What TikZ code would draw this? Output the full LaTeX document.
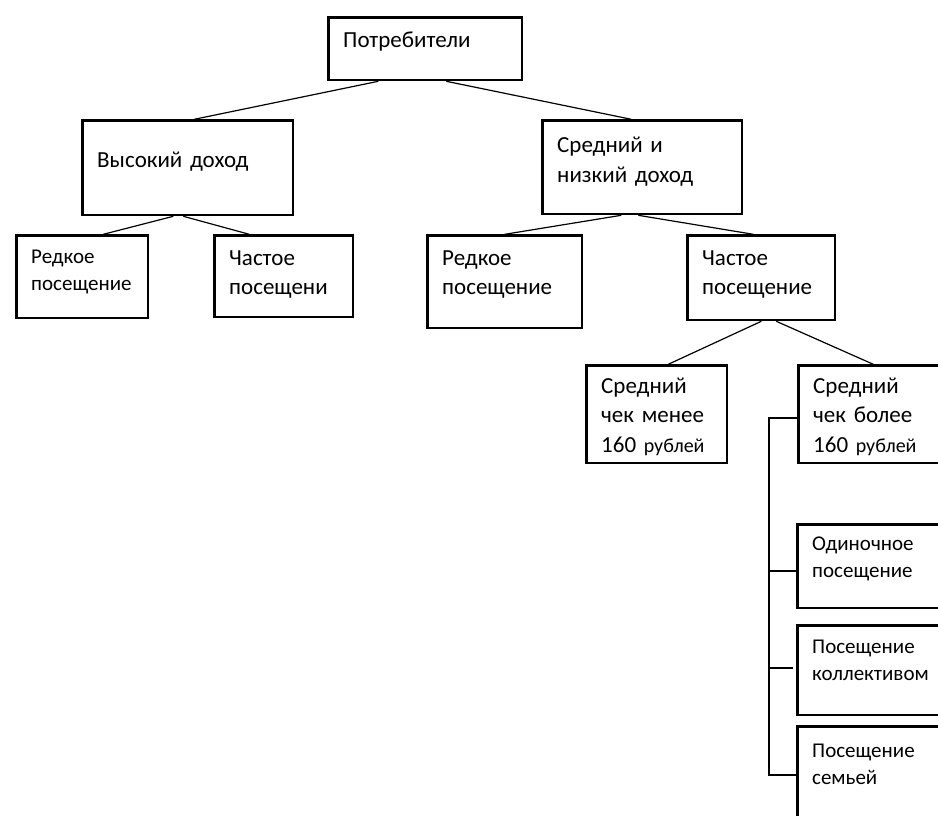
\documentclass[tikz,border=0pt]{standalone}
\usepackage{fontspec}
\setmainfont{Carlito}
\begin{document}
\begin{tikzpicture}[x=1pt,y=-1pt,
 box/.style={draw=black, line width=2.6pt, anchor=north west, inner sep=0pt},
 conn/.style={draw=black, line width=1.2pt},
 big/.style={font=\fontsize{23}{29.5}\selectfont, anchor=base west, inner sep=0pt, align=left, text width=200pt},
 small/.style={font=\fontsize{21}{27}\selectfont, anchor=base west, inner sep=0pt, align=left, text width=200pt}]
\clip (0,0) rectangle (938,816);
\fill[white] (0,0) rectangle (938,816);
% boxes
\node[box, minimum width=193.4pt, minimum height=62.4pt] (P) at (327.3,16.3) {};
\node[box, minimum width=210.4pt, minimum height=94.4pt] (HD) at (81.3,119.3) {};
\node[box, minimum width=131.4pt, minimum height=82.4pt] (LR) at (15.3,234.3) {};
\node[box, minimum width=138.4pt, minimum height=81.4pt] (LF) at (213.3,234.3) {};
\node[box, minimum width=199.4pt, minimum height=93.4pt] (MD) at (541.3,119.3) {};
\node[box, minimum width=154.4pt, minimum height=92.4pt] (MR) at (426.3,234.3) {};
\node[box, minimum width=147.4pt, minimum height=84.4pt] (MF) at (686.3,234.3) {};
\node[box, minimum width=140.4pt, minimum height=97.4pt] (C1) at (585.3,364.3) {};
\node[box, minimum width=161.4pt, minimum height=97.4pt] (C2) at (797.3,364.3) {};
\node[box, minimum width=162.4pt, minimum height=83.4pt] (V1) at (796.3,523.3) {};
\node[box, minimum width=162.4pt, minimum height=89.4pt] (V2) at (796.3,624.3) {};
\node[box, minimum width=162.4pt, minimum height=113.4pt] (V3) at (796.3,725.3) {};
% texts
\node[big] (tP) at (343,48) {Потребители};
\node[big] (tHD) at (97,167) {Высокий доход};
\node[small] (tLR) at (31,263) {Редкое\\посещение};
\node[big] (tLF) at (229,265) {Частое\\посещени};
\node[big] (tMD) at (557,153) {Средний и\\низкий доход};
\node[big] (tMR) at (442,265) {Редкое\\посещение};
\node[big] (tMF) at (702,265) {Частое\\посещение};
\node[big] (tC1) at (601,393) {Средний\\чек менее\\160 {\fontsize{20}{29.5}\selectfont рублей}};
\node[big] (tC2) at (813,393) {Средний\\чек более\\160 {\fontsize{20}{29.5}\selectfont рублей}};
\node[small] (tV1) at (812,550) {Одиночное\\посещение};
\node[small] (tV2) at (812,653) {Посещение\\коллективом};
\node[small] (tV3) at (812,757) {Посещение\\семьей};
% connectors
\draw[conn] ([xshift=-47pt]P.south) -- ([xshift=6.5pt]HD.north);
\draw[conn] ([xshift=21pt]P.south) -- ([xshift=-11pt]MD.north);
\draw[conn] ([xshift=-14.5pt]HD.south) -- ([xshift=21pt]LR.north);
\draw[conn] ([xshift=-4.5pt]HD.south) -- ([xshift=-34.5pt]LF.north);
\draw[conn] ([xshift=-21pt]MD.south) -- (MR.north);
\draw[conn] ([xshift=-4pt]MD.south) -- ([xshift=-8pt]MF.north);
\draw[conn] (MF.south) -- ([xshift=11.5pt]C1.north);
\draw[conn] ([xshift=15pt]MF.south) -- ([xshift=-6pt]C2.north);
% bracket
\coordinate (sp) at (769,418);
\coordinate (se) at (769,775);
\draw[conn] (C2.west |- sp) -- (sp) -- (se) -- (V3.west |- se);
\draw[conn] (sp |- 0,571) -- (V1.west |- 0,571);
\draw[conn] (sp |- 0,668) -- ([xshift=-3pt]V2.west |- 0,668);
\end{tikzpicture}
\end{document}
